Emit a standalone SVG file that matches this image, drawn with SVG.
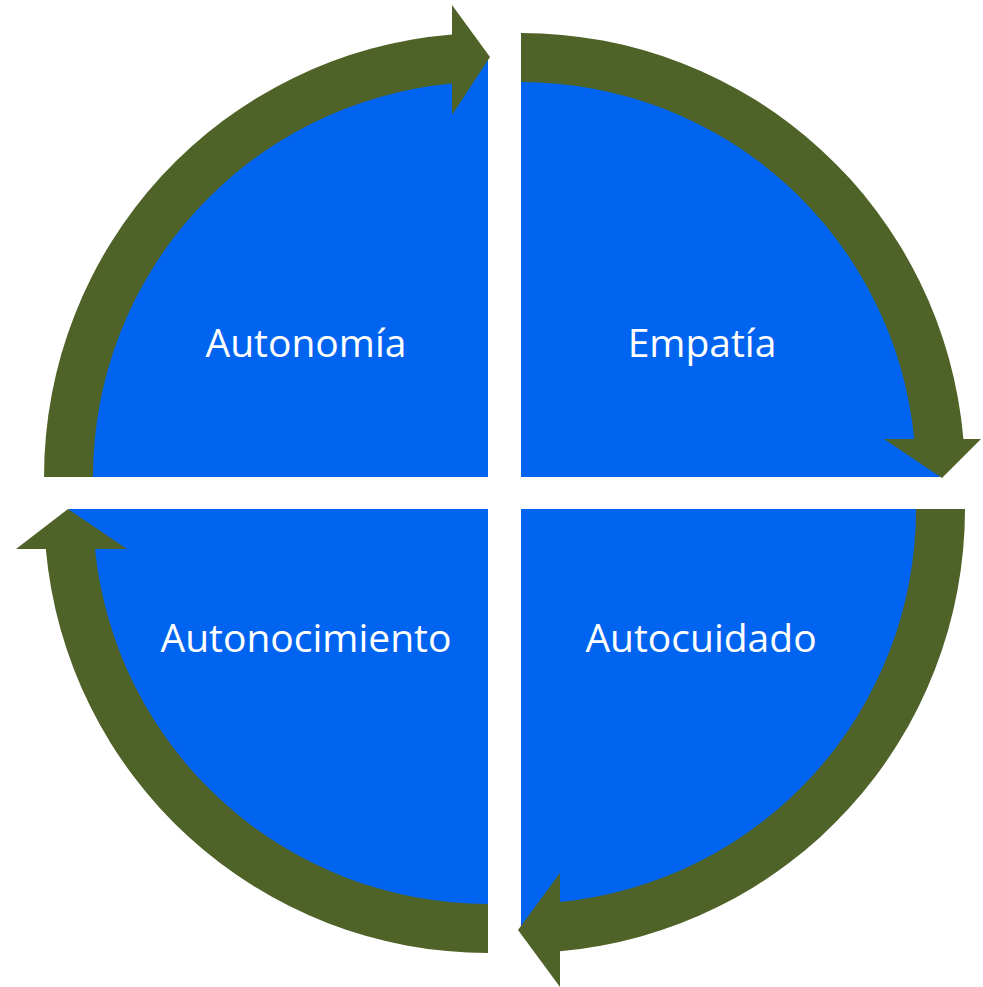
<svg xmlns="http://www.w3.org/2000/svg" width="983" height="987" viewBox="0 0 983 987">
<style>
.q{fill:#0064F0}
.a{fill:#4F6228}
.t{fill:#FFFFFF;font-family:"Open Sans","Noto Sans",sans-serif;font-size:39px;text-anchor:middle}
</style>
<rect width="983" height="987" fill="#FFFFFF"/>
<g id="autonomia">
<path class="q" d="M488,477 L69,477 A419,419 0 0 1 488,58 Z"/>
<text class="t" x="306" y="357">Autonomía</text>
</g>
<g id="empatia">
<path class="q" d="M521,477 L521,58 A419,419 0 0 1 940,477 Z"/>
<text class="t" x="702" y="357">Empatía</text>
</g>
<g id="autocuidado">
<path class="q" d="M521,509 L940,509 A419,419 0 0 1 521,928 Z"/>
<text class="t" x="701" y="652">Autocuidado</text>
</g>
<g id="autonocimiento">
<path class="q" d="M488,509 L488,928 A419,419 0 0 1 69,509 Z"/>
<text class="t" x="306" y="652">Autonocimiento</text>
</g>
<g id="connectors">
<path class="a" d="M44,477 A444,444 0 0 1 452,34.5 L452,5 L490,57 L452,115 L452,83.6 A395,395 0 0 0 93,477 Z"/>
<path class="a" d="M521,33 A444,444 0 0 1 963.4,439 L981,439 L942,478 L884,439 L914.2,439 A395,395 0 0 0 521,82 Z"/>
<path class="a" d="M965,509 A444,444 0 0 1 560,951.3 L560,987 L518,930 L560,873 L560,902.1 A395,395 0 0 0 916,509 Z"/>
<path class="a" d="M488,953 A444,444 0 0 1 45.8,549 L16,549 L68,509 L127,549 L95,549 A395,395 0 0 0 488,904 Z"/>
</g>
</svg>
